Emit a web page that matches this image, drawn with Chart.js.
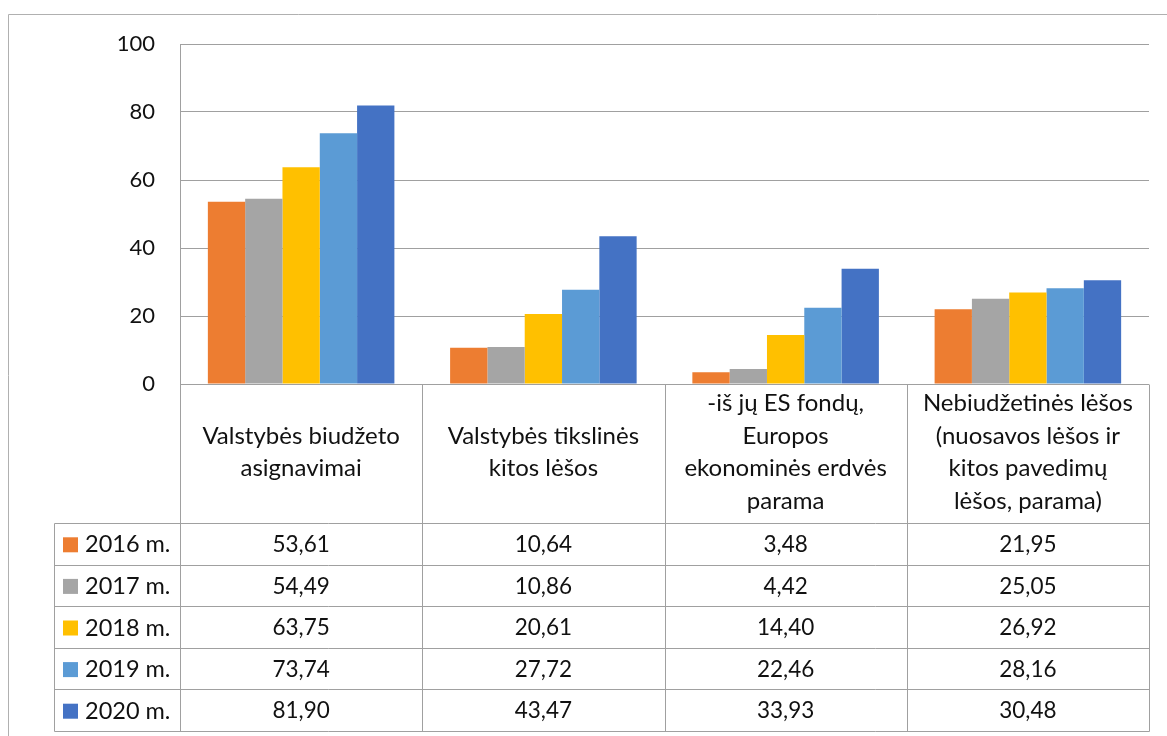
<!DOCTYPE html>
<html>
<head>
<meta charset="utf-8">
<script src="https://cdn.jsdelivr.net/npm/chart.js@4"></script>
<style>
  body { margin: 0; background: #fff; }
  #wrap { width: 1167px; height: 736px; }
</style>
</head>
<body>
<div id="wrap"><canvas id="chart1" width="1167" height="736"></canvas></div>
<script>
// categories (multi-line labels, as in the table header)
const categories = [
    ["Valstybės biudžeto", "asignavimai"],
    ["Valstybės tikslinės", "kitos lėšos"],
    ["-iš jų ES fondų,", "Europos", "ekonominės erdvės", "parama"],
    ["Nebiudžetinės lėšos", "(nuosavos lėšos ir", "kitos pavedimų", "lėšos, parama)"]
];
const years = ["2016 m.", "2017 m.", "2018 m.", "2019 m.", "2020 m."];
const v2016 = [53.61, 10.64, 3.48, 21.95];
const v2017 = [54.49, 10.86, 4.42, 25.05];
const v2018 = [63.75, 20.61, 14.40, 26.92];
const v2019 = [73.74, 27.72, 22.46, 28.16];
const v2020 = [81.90, 43.47, 33.93, 30.48];
const colors = ["#ED7D31", "#A5A5A5", "#FFC000", "#5B9BD5", "#4472C4"];
const yMin = 0, yMax = 100, yStep = 20;

const seriesValues = [v2016, v2017, v2018, v2019, v2020];
const FONT = "Lato, 'Open Sans', sans-serif";
const lineColor = "#a0a0a0";

// draws the data table under the plot and the outer chart border
const dataTable = {
    id: 'dataTable',
    afterDraw(chart) {
        const { ctx, chartArea, scales } = chart;
        const x = scales.x;
        const catW = (chartArea.right - chartArea.left) / categories.length;
        const top = chartArea.bottom;
        const headerH = 139;
        const rowH = 41.6;
        const legendLeft = 54;
        const bottom = top + headerH + rowH * years.length;
        const cols = categories.map((c, i) => x.getPixelForValue(i) - catW / 2);
        cols.push(chartArea.right);

        ctx.save();
        ctx.lineWidth = 1;
        const line = (x1, y1, x2, y2) => {
            ctx.beginPath();
            ctx.moveTo(Math.round(x1) + 0.5, Math.round(y1) + 0.5);
            ctx.lineTo(Math.round(x2) + 0.5, Math.round(y2) + 0.5);
            ctx.stroke();
        };

        // outer border (left + top)
        ctx.strokeStyle = "#b0b0b0";
        line(8, 14, 1167, 14);
        line(8, 14, 8, 736);
        ctx.strokeStyle = lineColor;

        // vertical lines
        cols.forEach(cx => line(cx, top, cx, bottom));
        line(legendLeft, top + headerH, legendLeft, bottom);
        // horizontal lines
        for (let r = 0; r <= years.length; r++) {
            const y = top + headerH + r * rowH;
            line(legendLeft, y, chartArea.right, y);
        }

        ctx.fillStyle = "#111";
        ctx.font = "24px " + FONT;
        ctx.textAlign = "center";
        ctx.textBaseline = "middle";
        const lh = 32.5;
        categories.forEach((lines, i) => {
            const cx = x.getPixelForValue(i);
            const y0 = top + headerH / 2 - 1 - (lines.length - 1) * lh / 2;
            lines.forEach((t, k) => ctx.fillText(t, cx, y0 + k * lh));
        });

        years.forEach((yr, r) => {
            const cy = top + headerH + r * rowH + rowH / 2 + 1;
            ctx.fillStyle = colors[r];
            ctx.fillRect(63, cy - 7.5, 15, 15);
            ctx.fillStyle = "#111";
            ctx.textAlign = "left";
            ctx.font = "23.5px " + FONT;
            ctx.fillText(yr, 85, cy);
            ctx.textAlign = "center";
            ctx.font = "22.5px " + FONT;
            seriesValues[r].forEach((v, i) => {
                ctx.fillText(v.toFixed(2).replace('.', ','), x.getPixelForValue(i), cy);
            });
        });
        ctx.restore();
    }
};

new Chart(
    document.getElementById('chart1'),
    {
        type: 'bar',
        data: {
            labels: categories,
            datasets: years.map((yr, i) => ({
                label: yr,
                data: seriesValues[i],
                backgroundColor: colors[i],
                borderWidth: 0,
                categoryPercentage: 0.77,
                barPercentage: 1
            }))
        },
        options: {
            responsive: false,
            animation: false,
            layout: { padding: { top: 44, right: 18, bottom: 352, left: 0 } },
            plugins: {
                legend: { display: false },
                tooltip: { enabled: false }
            },
            scales: {
                x: {
                    grid: { display: false },
                    ticks: { display: false },
                    border: { display: false },
                    afterFit(scale) { scale.height = 0; }
                },
                y: {
                    min: yMin,
                    max: yMax,
                    ticks: {
                        stepSize: yStep,
                        padding: 25,
                        color: "#111",
                        font: { family: FONT, size: 22 }
                    },
                    grid: { color: lineColor, drawTicks: false },
                    border: { display: true, color: lineColor },
                    afterFit(scale) { scale.width = 180; }
                }
            }
        },
        plugins: [dataTable]
    }
);
</script>
</body>
</html>
